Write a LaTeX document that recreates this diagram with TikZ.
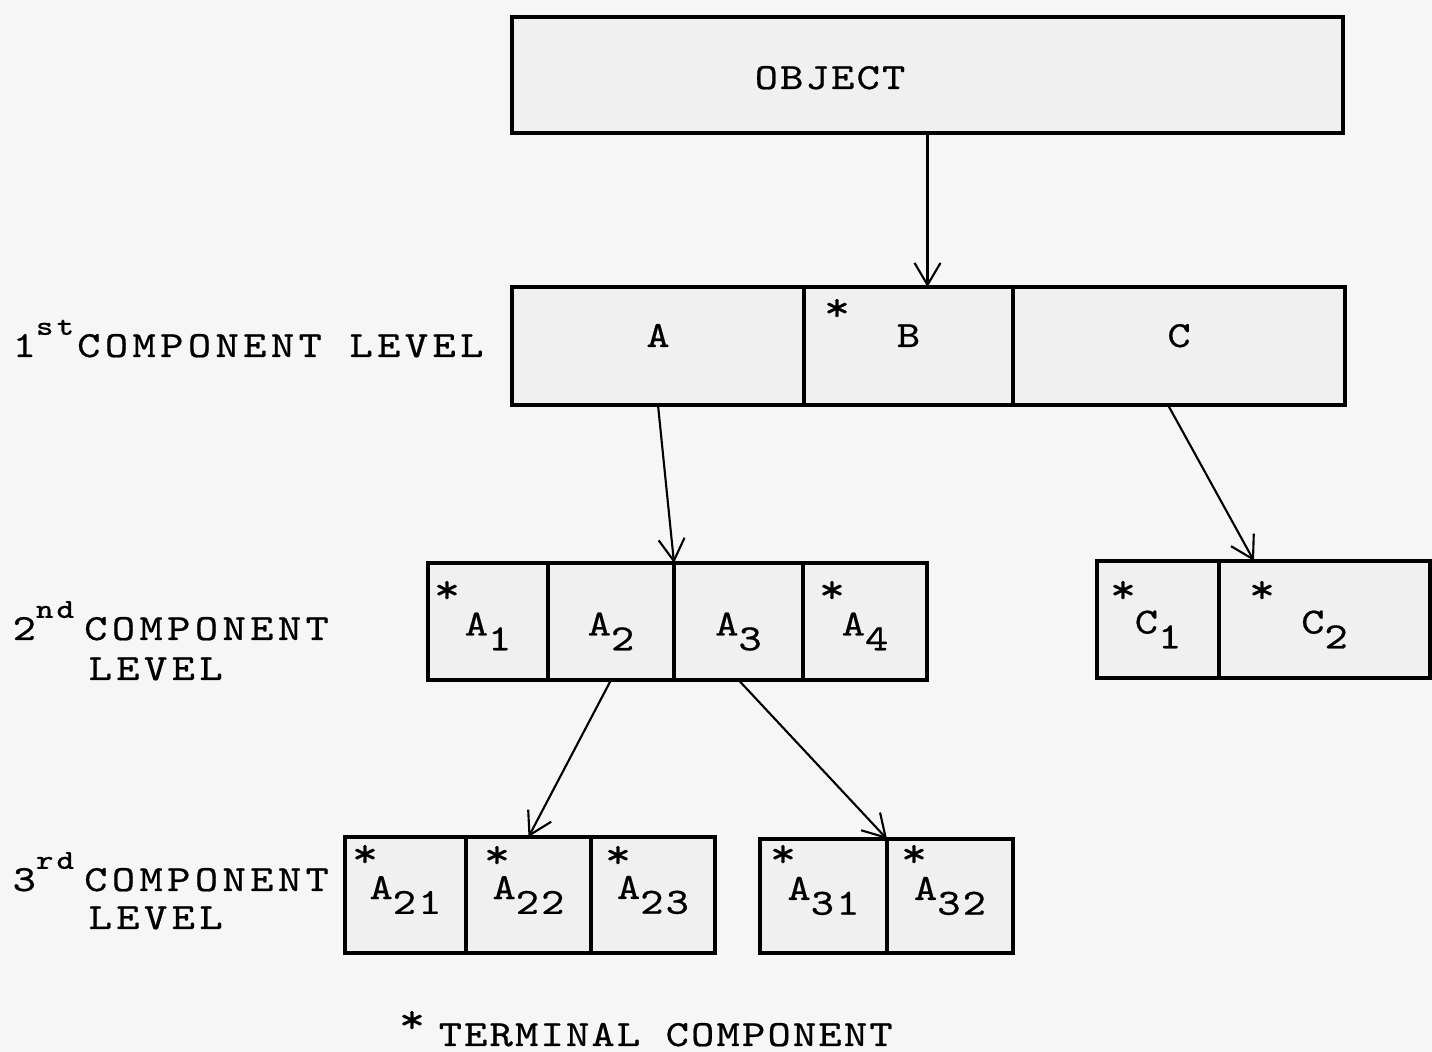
\documentclass[tikz,border=0pt]{standalone}
\usepackage{fontspec}
\setmonofont[FakeStretch=1.2, LetterSpace=6, FakeBold=0.6]{Latin Modern Mono}
\newfontfamily\widefont[FakeStretch=1.2, LetterSpace=12, FakeBold=0.6]{Latin Modern Mono}
\usetikzlibrary{arrows.meta,positioning}
\definecolor{pagegray}{gray}{0.965}
\definecolor{boxgray}{gray}{0.94}
\newcommand{\lvlup}[1]{\raisebox{0.6em}{\fontsize{7.8}{8}\selectfont #1}}
\newcommand{\lowsub}[1]{\raisebox{-0.4em}{#1}}

\begin{document}
\begin{tikzpicture}[
    cell/.style={draw, line width=1pt, fill=boxgray, minimum height=1.17cm, inner sep=0pt, outer sep=0pt,
        anchor=north west, font=\ttfamily\fontsize{10.5}{13}\selectfont},
    rowone/.style={text height=0.22cm, text depth=0.2cm},
    rowtwo/.style={text height=0.46cm, text depth=0.18cm},
    boxtxt/.style={font=\ttfamily\fontsize{10.5}{13}\selectfont, inner sep=0pt},
    lvl/.style={font=\widefont\fontsize{10.5}{13}\selectfont, anchor=base west, inner sep=0pt},
    keytxt/.style={font=\ttfamily\fontsize{10.5}{13}\selectfont, anchor=base west, inner sep=0pt},
    tstar/.style={font=\ttfamily\bfseries\fontsize{12}{12}\selectfont, inner sep=0pt},
    arr/.style={semithick, -{Straight Barb[length=2.2mm,width=2.6mm]}}
]
    % page
    \fill[pagegray] (0,0) rectangle (14.32,-10.52);
    \useasboundingbox (0,0) rectangle (14.32,-10.52);

    % object
    \node[cell, minimum width=8.31cm, minimum height=1.16cm] (obj) at (5.12,-0.17) {};
    \node[boxtxt, rowtwo] (objtxt) at (8.30,-0.75) {OBJECT};

    % 1st level
    \node[cell, rowone, minimum width=2.92cm, minimum height=1.18cm] (A) at (5.12,-2.87) {A};
    \node[cell, rowone, minimum width=2.09cm, minimum height=1.18cm, right=0pt of A] (B) {B};
    \node[cell, rowone, minimum width=3.32cm, minimum height=1.18cm, right=0pt of B] (C) {C};
    \node[lvl] (lvl1) at (0.12,-3.57) {1\lvlup{st}\hspace{0.03cm}COMPONENT LEVEL};

    % 2nd level
    \node[cell, rowtwo, minimum width=1.20cm] (A1) at (4.28,-5.63) {A\lowsub{1}};
    \node[cell, rowtwo, minimum width=1.26cm, right=0pt of A1] (A2) {A\lowsub{2}};
    \node[cell, rowtwo, minimum width=1.29cm, right=0pt of A2] (A3) {A\lowsub{3}};
    \node[cell, rowtwo, minimum width=1.24cm, right=0pt of A3] (A4) {A\lowsub{4}};
    \node[cell, rowtwo, minimum width=1.22cm] (C1) at (10.97,-5.61) {C\lowsub{1}};
    \node[cell, rowtwo, minimum width=2.11cm, right=0pt of C1] (C2) {C\lowsub{2}};
    \node[lvl] (lvl2) at (0.12,-6.40) {2\lvlup{nd}\hspace{0.1cm}COMPONENT};
    \node[lvl] (lvl2b) at (0.88,-6.80) {LEVEL};

    % 3rd level
    \node[cell, minimum width=1.21cm, minimum height=1.16cm] (A21) at (3.45,-8.37) {A\lowsub{21}};
    \node[cell, minimum width=1.25cm, minimum height=1.16cm, right=0pt of A21] (A22) {A\lowsub{22}};
    \node[cell, minimum width=1.24cm, minimum height=1.16cm, right=0pt of A22] (A23) {A\lowsub{23}};
    \node[cell, minimum width=1.27cm, minimum height=1.14cm] (A31) at (7.60,-8.39) {A\lowsub{31}};
    \node[cell, minimum width=1.26cm, minimum height=1.14cm, right=0pt of A31] (A32) {A\lowsub{32}};
    \node[lvl] (lvl3) at (0.12,-8.91) {3\lvlup{rd}\hspace{0.1cm}COMPONENT};
    \node[lvl] (lvl3b) at (0.88,-9.29) {LEVEL};

    % terminal marks
    \node[tstar] (sB) at (8.37,-3.10) {*};
    \node[tstar] (sA1) at (4.47,-5.92) {*};
    \node[tstar] (sA4) at (8.32,-5.92) {*};
    \node[tstar] (sC1) at (11.23,-5.92) {*};
    \node[tstar] (sC2) at (12.62,-5.92) {*};
    \node[tstar] (sA21) at (3.65,-8.56) {*};
    \node[tstar] (sA22) at (4.97,-8.57) {*};
    \node[tstar] (sA23) at (6.18,-8.57) {*};
    \node[tstar] (sA31) at (7.83,-8.56) {*};
    \node[tstar] (sA32) at (9.14,-8.56) {*};

    % legend
    \node[tstar] (skey) at (4.12,-10.22) {*};
    \node[keytxt] (key) at (4.38,-10.46) {TERMINAL COMPONENT};

    % connectors
    \draw[arr] (obj.south) -- (obj.south |- B.north);
    \draw[arr] (A.south) -- (A3.north west);
    \draw[arr] ([xshift=-0.11cm]C.south) -- ([xshift=0.35cm]C2.north west);
    \draw[arr] (A2.south) -- (A22.north);
    \draw[arr] (A3.south) -- (A32.north west);
\end{tikzpicture}
\end{document}
